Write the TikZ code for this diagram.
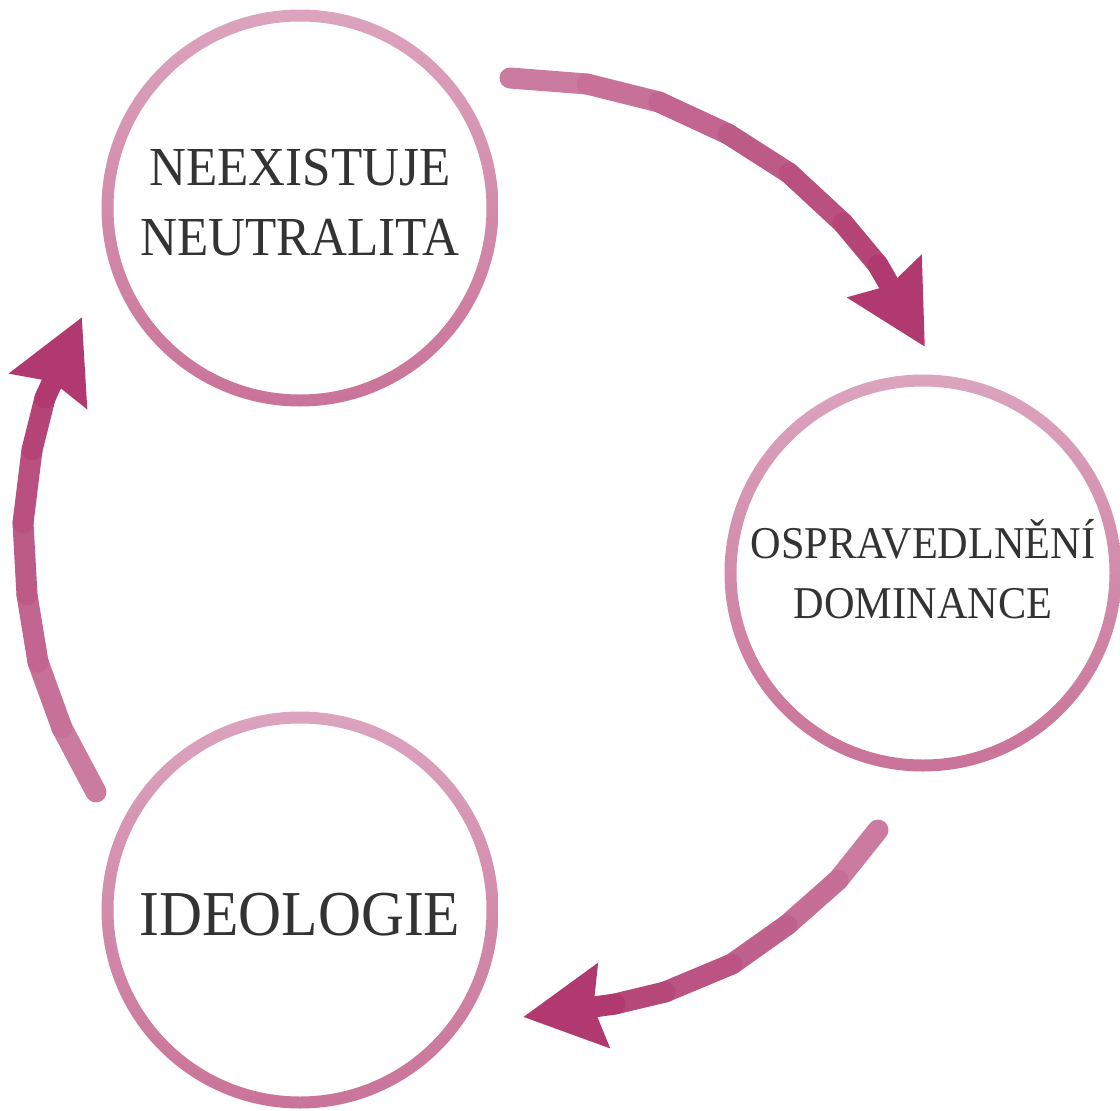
\documentclass[tikz,border=0pt]{standalone}
\usepackage{fontspec}
\setmainfont{Liberation Serif}[FakeStretch=0.93]
\usetikzlibrary{arrows.meta,positioning}
\definecolor{ringtop}{HTML}{DCA4BE}
\definecolor{ringbot}{HTML}{C97398}
\definecolor{flowlight}{HTML}{CB7BA0}
\definecolor{flowdark}{HTML}{B03A6F}
\definecolor{inktext}{HTML}{333333}
\tikzset{
    %Define the round stations
    station/.style={
      circle,
      minimum size=374pt,
      inner sep=0pt,
      text=inktext,
      align=center},
    ring/.style={
      even odd rule,
      top color=ringtop,
      bottom color=ringbot},
    flow/.style={
      line width=21pt,
      line cap=round,
      line join=round},
    flowtip/.style={
      -{Stealth[length=80pt,width=82pt,inset=9pt,color=flowdark]}},
}

\begin{document}
\begin{tikzpicture}[x=1pt,y=-1pt]
    \useasboundingbox (0,0) rectangle (1120,1111);
    % rings
    \foreach \x/\y in {300/208, 923/573, 300/910}
      \shade[ring] (\x,\y) circle[radius=198.5] (\x,\y) circle[radius=186.5];
    % stations
    \node (neutral) [station,font=\fontsize{55}{70}\selectfont] at (300,203)
          {NEEXISTUJE\\NEUTRALITA};
    \node (dominance) [station,font=\fontsize{45.5}{60}\selectfont] at (923,569)
          {OSPRAVEDLNĚNÍ\\DOMINANCE};
    \node (ideology) [station,font=\fontsize{64}{70}\selectfont] at (300,915)
          {IDEOLOGIE};
    % free ends of the arrows
    \coordinate (tailA) at (510,78);
    \coordinate (tipA) at (925,347);
    \coordinate (tailB) at (878,830);
    \coordinate (tipB) at (523,1017);
    \coordinate (tailC) at (96,792);
    \coordinate (tipC) at (82,317);
    % neutral -> dominance
    \foreach \p/\q/\c in {{(tailA)}/{(587,84)}/0, {(587,84)}/{(659,102)}/16,
        {(659,102)}/{(728,134)}/33, {(728,134)}/{(789,173)}/50,
        {(789,173)}/{(843,223)}/66, {(843,223)}/{(878,265)}/83}
      \draw[flow,flowdark!\c!flowlight] \p -- \q;
    \draw[flow,flowtip,flowdark] (878,265) -- (tipA);
    % dominance -> ideology
    \foreach \p/\q/\c in {{(tailB)}/{(838,880)}/0, {(838,880)}/{(787,925)}/20,
        {(787,925)}/{(732,964)}/40, {(732,964)}/{(665,992)}/60,
        {(665,992)}/{(615,1004)}/80}
      \draw[flow,flowdark!\c!flowlight] \p -- \q;
    \draw[flow,flowtip,flowdark] (615,1004) -- (tipB);
    % ideology -> neutral
    \foreach \p/\q/\c in {{(tailC)}/{(62,728)}/0, {(62,728)}/{(38,662)}/16,
        {(38,662)}/{(27,595)}/33, {(27,595)}/{(23,523)}/50,
        {(23,523)}/{(32,450)}/66, {(32,450)}/{(45,398)}/83}
      \draw[flow,flowdark!\c!flowlight] \p -- \q;
    \draw[flow,flowtip,flowdark] (45,398) -- (tipC);
\end{tikzpicture}
\end{document}
